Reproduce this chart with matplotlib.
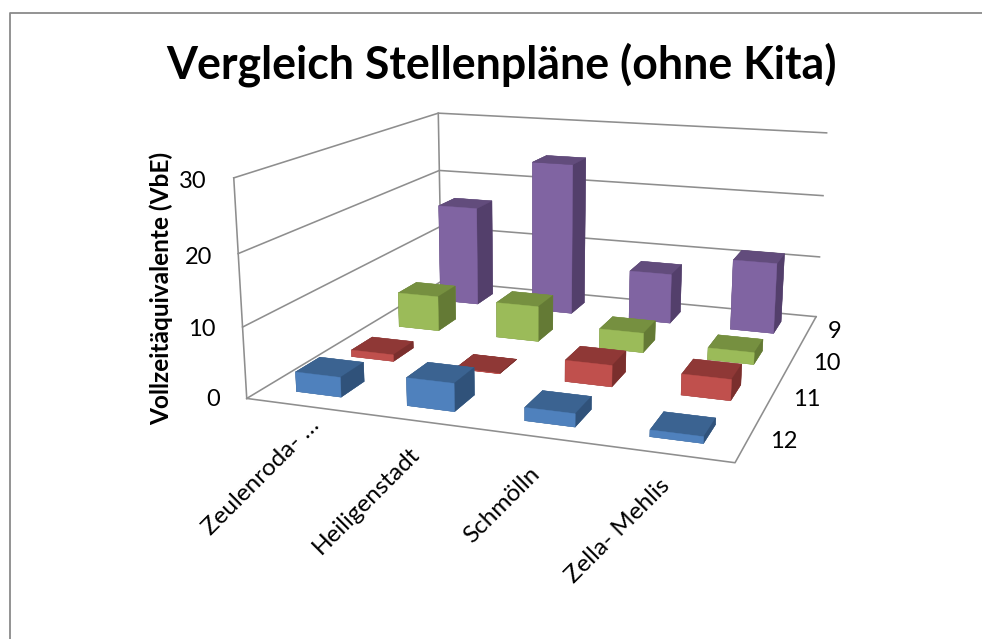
import numpy as np
import matplotlib
matplotlib.use("Agg")
import matplotlib.pyplot as plt
from mpl_toolkits.mplot3d import Axes3D  # noqa

categories = ["Zeulenroda- …", "Heiligenstadt", "Schmölln", "Zella- Mehlis"]
series_names = ["12", "11", "10", "9"]
blue_12 = [2.8, 3.9, 1.8, 0.9]
red_11 = [1.0, 0.05, 3.1, 3.0]
green_10 = [5.5, 5.5, 3.0, 1.8]
purple_9 = [16.3, 24.6, 8.0, 11.2]
z_ticks = [0, 10, 20, 30]
title = "Vergleich Stellenpläne (ohne Kita)"
ylabel = "Vollzeitäquivalente (VbE)"

series_values = [blue_12, red_11, green_10, purple_9]
# face colours: front, top, side
series_colors = [("#4F81BD", "#3B6391", "#30527A"),
                 ("#C0504D", "#8F3836", "#7A2F2D"),
                 ("#9BBB59", "#769040", "#647A35"),
                 ("#8064A2", "#624C7C", "#533F6B")]

W, H = 982, 639
plt.rcParams["font.family"] = ["Lato", "DejaVu Sans"]
fig = plt.figure(figsize=(W / 100, H / 100), dpi=100, facecolor="white")
ax = fig.add_axes([0, -(W - H) / 2 / H, 1, W / H], projection="3d")
ax.set_axis_off()
ax.patch.set_visible(False)
ax.computed_zorder = False
ax.apply_aspect()

# camera: world (category, series, value) to picture pixels
world = np.array([(0,0,0),(4,0,0),(4,4,0),(0,4,0),(0,0,30),(0,4,30),(4,4,30),
                  (0,0,10),(0,0,20),(4,4,10),(4,4,20),(0,4,10),(0,4,20)], float)
pix = np.array([(246,399),(735,462.7),(816,316.7),(442,281),(233.3,178.3),(438,113),
                (826.7,132.7),(242.7,326.7),(239.3,253),(819.3,256.7),(823.3,196),
                (440,226.7),(439.3,170.7)], float)
A = []
for (x, y, z), (u, v) in zip(world, pix):
    A.append([x, y, z, 1, 0, 0, 0, 0, -u*x, -u*y, -u*z, -u])
    A.append([0, 0, 0, 0, x, y, z, 1, -v*x, -v*y, -v*z, -v])
_, _, Vt = np.linalg.svd(np.array(A))
P = Vt[-1].reshape(3, 4)
if P[2, 3] < 0:
    P = -P
inv = ax.transData.inverted()
p0 = inv.transform((0, H))
p1 = inv.transform((1, H - 1))
Adj = np.array([[p1[0]-p0[0], 0, p0[0]], [0, p1[1]-p0[1], p0[1]], [0, 0, 1]])
Q = Adj @ P
M = np.vstack([Q[0], Q[1], [0, 0, 0, -1], Q[2]])
ax.get_proj = lambda: M

grid_c = "#8E8E8E"
lw = 1.15
for z in z_ticks:
    ax.plot([0, 0, 4], [0, 4, 4], [z, z, z], color=grid_c, lw=lw, zorder=1)
ax.plot([0, 0], [0, 0], [0, 30], color=grid_c, lw=lw, zorder=1)
ax.plot([0, 0], [4, 4], [0, 30], color=grid_c, lw=lw, zorder=1)
ax.plot([0, 4, 4], [0, 0, 4], [0, 0, 0], color=grid_c, lw=lw, zorder=1)

bw, bd = 0.41, 0.42
for j in range(3, -1, -1):
    front, top, side = series_colors[j]
    for i in range(4):
        faces = [top, top, front, top, side, side]
        ax.bar3d(i + 0.5 - bw / 2, j + 0.5 - bd / 2, 0, bw, bd, series_values[j][i],
                 color=faces, edgecolor=faces, linewidth=0.3, shade=False,
                 zorder=10 + (3 - j) * 10 + (3 - i))

def px(u, v):
    return u / W, 1 - v / H

fig.text(*px(501, 65), title, fontsize=32.1, fontweight="bold", ha="center", va="center", color="black")
fig.text(*px(161, 288.5), ylabel, fontsize=17.6, fontweight="bold", rotation=90,
         ha="center", va="center", color="black")
for z, (u, v) in zip(z_ticks, [(220, 400), (216, 330), (212, 257), (207, 182)]):
    fig.text(*px(u, v), str(z), fontsize=17, ha="right", va="center")
for s, (u, v) in zip(series_names, [(784, 442), (807, 400), (827, 364), (835, 332)]):
    fig.text(*px(u, v), s, fontsize=17, ha="center", va="center")
for c, (u, v) in zip(categories, [(308, 414), (408.5, 443.5), (529, 463), (659, 475)]):
    fig.text(*px(u, v), c, fontsize=17.5, rotation=45, rotation_mode="anchor",
             ha="right", va="top")

# chart frame
fig.add_artist(plt.Line2D([9.5 / W, 9.5 / W, 1], [0, 1 - 12.5 / H, 1 - 12.5 / H],
                          color="#8A8A8A", lw=1.3, transform=fig.transFigure))

fig.savefig("out.png", dpi=100, facecolor="white")
